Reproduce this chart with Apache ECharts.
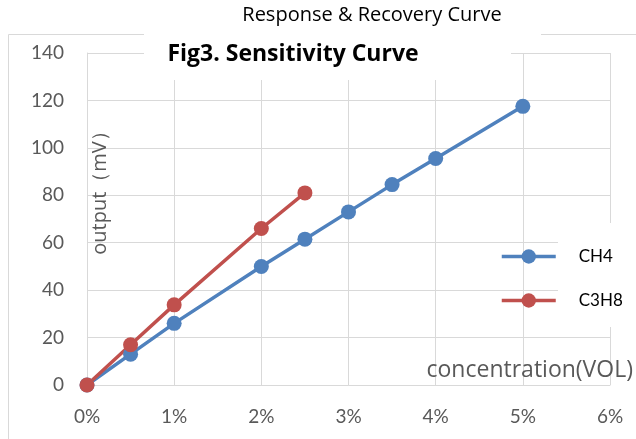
<!DOCTYPE html>
<html>
<head>
<meta charset="utf-8">
<script src="https://cdn.jsdelivr.net/npm/echarts@6/dist/echarts.min.js"></script>
<style>html,body{margin:0;padding:0;background:#fff}#c{width:636px;height:439px}</style>
</head>
<body>
<div id="c"></div>
<script>
const concentration = [0, 0.5, 1, 2, 2.5, 3, 3.5, 4, 5];
const ch4Values = [0, 13, 26, 50, 61.5, 73, 84.5, 95.5, 117.5];
const c3h8Concentration = [0, 0.5, 1, 2, 2.5];
const c3h8Values = [0, 17, 33.8, 66, 81];
const seriesNames = ['CH4', 'C3H8'];
const chartTitle = 'Response & Recovery Curve';
const subTitle = 'Fig3. Sensitivity Curve';
const yAxisName = 'output（mV）';
const xAxisName = 'concentration(VOL)';

const FONT = 'Lato';
const FONT2 = '"Open Sans"';
const chart = echarts.init(document.getElementById('c'), null, {renderer: 'canvas'});
const pairs = (xs, ys) => xs.map((x, i) => [x, ys[i]]);
chart.setOption({
  animation: false,
  textStyle: {fontFamily: FONT},
  grid: {left: 87, right: 26, top: 53, bottom: 54, containLabel: false},
  xAxis: {
    type: 'value', min: 0, max: 6, interval: 1,
    axisLine: {show: true, lineStyle: {color: '#d9d9d9', width: 1}},
    axisTick: {show: false},
    splitLine: {show: true, lineStyle: {color: '#d9d9d9', width: 1}},
    axisLabel: {formatter: '{value}%', color: '#595959', fontSize: 19, fontFamily: FONT, margin: 22}
  },
  yAxis: {
    type: 'value', min: 0, max: 140, interval: 20,
    axisLine: {show: true, lineStyle: {color: '#d9d9d9', width: 1}},
    axisTick: {show: false},
    splitLine: {show: true, lineStyle: {color: '#d9d9d9', width: 1}},
    axisLabel: {color: '#595959', fontSize: 19, fontFamily: FONT, margin: 23}
  },
  legend: {
    orient: 'vertical', left: 500, top: 248, padding: 0, itemWidth: 54, itemHeight: 18, itemGap: 27,
    lineStyle: {width: 3.5},
    textStyle: {color: '#000', fontSize: 17, fontFamily: FONT, padding: [0, 0, 0, 18]},
    data: seriesNames
  },
  title: [
    {text: chartTitle, left: 372, top: 5, textAlign: 'center', padding: 0,
     textStyle: {fontSize: 20, fontWeight: 'normal', color: '#000', fontFamily: FONT2}},
    {text: subTitle, left: 293, top: 43, textAlign: 'center', padding: 0,
     textStyle: {fontSize: 23, fontWeight: 'bold', color: '#000', fontFamily: FONT2}}
  ],
  graphic: [
    {type: 'rect', z: 0, silent: true, shape: {x: 8.5, y: 34.5, width: 800, height: 600}, style: {fill: 'none', stroke: '#d9d9d9', lineWidth: 1}},
    {type: 'rect', z: 1, silent: true, shape: {x: 144, y: 0, width: 397, height: 40}, style: {fill: '#fff'}},
    {type: 'rect', z: 1, silent: true, shape: {x: 144, y: 40, width: 367, height: 40}, style: {fill: '#fff'}},
    {type: 'rect', z: 1, silent: true, shape: {x: 558, y: 223, width: 100, height: 104}, style: {fill: '#fff'}},
    {type: 'text', z: 5, silent: true, x: 100, y: 188, rotation: Math.PI / 2,
     style: {text: yAxisName, fill: '#595959', font: '20px ' + FONT2, textAlign: 'center', textVerticalAlign: 'middle'}},
    {type: 'text', z: 5, silent: true, x: 633, y: 370,
     style: {text: xAxisName, fill: '#595959', font: '23px ' + FONT2, textAlign: 'right', textVerticalAlign: 'middle'}}
  ],
  series: [
    {name: seriesNames[0], type: 'line', data: pairs(concentration, ch4Values), symbol: 'circle', symbolSize: 15,
     itemStyle: {color: '#4f81bd'}, lineStyle: {color: '#4f81bd', width: 3.5}},
    {name: seriesNames[1], type: 'line', data: pairs(c3h8Concentration, c3h8Values), symbol: 'circle', symbolSize: 15,
     itemStyle: {color: '#c0504d'}, lineStyle: {color: '#c0504d', width: 3.5}}
  ]
});
</script>
</body>
</html>
